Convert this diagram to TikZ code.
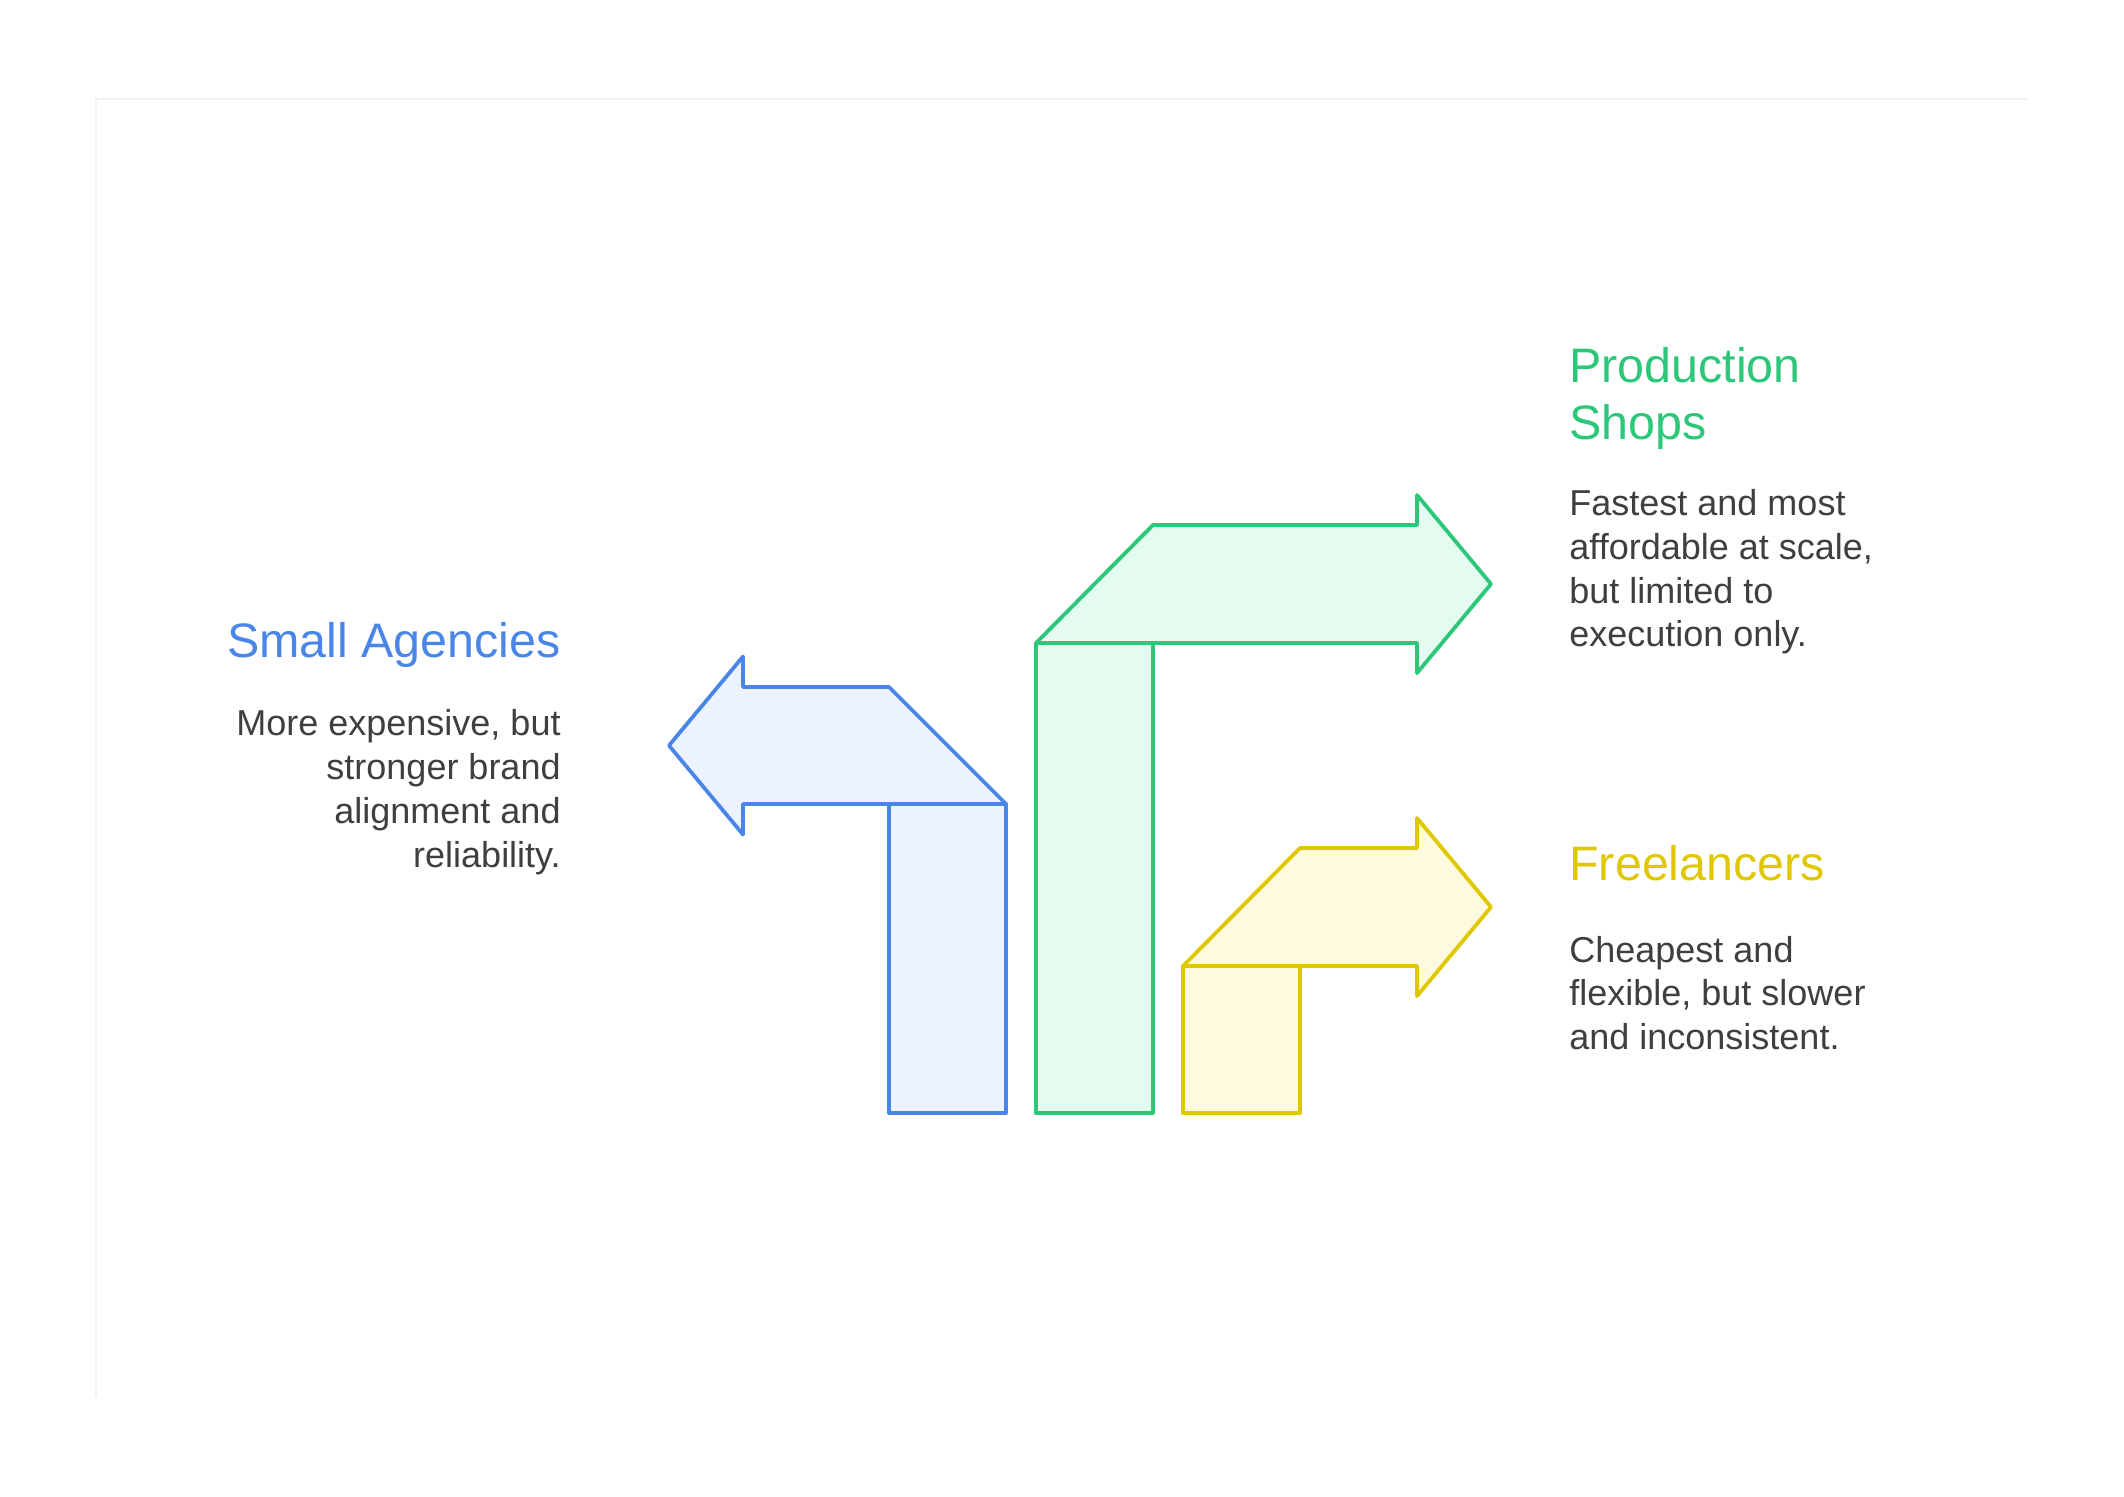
\documentclass[tikz,border=0pt]{standalone}
\usepackage{fontspec}
\setmainfont{Liberation Sans}
\definecolor{bstroke}{HTML}{4A86E8}
\definecolor{bfill}{HTML}{EDF3FE}
\definecolor{gstroke}{HTML}{2DC77A}
\definecolor{gfill}{HTML}{E3FCEF}
\definecolor{ystroke}{HTML}{E0C800}
\definecolor{yfill}{HTML}{FFFADF}
\definecolor{bodytext}{HTML}{3F3F3F}
\definecolor{framecol}{HTML}{F2F2F2}
\begin{document}
\begin{tikzpicture}[x=0.5pt,y=-0.5pt,line join=round,
  shapeB/.style={draw=bstroke,fill=bfill,line width=1.9pt},
  shapeG/.style={draw=gstroke,fill=gfill,line width=1.9pt},
  shapeY/.style={draw=ystroke,fill=yfill,line width=1.9pt},
  titleR/.style={anchor=base east,inner sep=0pt,font=\fontsize{24.2pt}{28.5pt}\selectfont},
  titleL/.style={anchor=base west,inner sep=0pt,font=\fontsize{24.2pt}{28.5pt}\selectfont},
  bodyR/.style={anchor=base east,inner sep=0pt,text=bodytext,font=\fontsize{18pt}{22pt}\selectfont},
  bodyL/.style={anchor=base west,inner sep=0pt,text=bodytext,font=\fontsize{18pt}{22pt}\selectfont}]
\useasboundingbox (0,0) rectangle (2124,1496);
\fill[white] (0,0) rectangle (2124,1496);
% faint frame
\draw[framecol,line width=1pt] (96,1397) -- (96,99) -- (2028,99);
% blue
\draw[shapeB] (889,804) rectangle (1006,1113);
\draw[shapeB] (1006,804) -- (889,687) -- (743,687) -- (743,656.5) -- (669,745.5) -- (743,834.5) -- (743,804) -- cycle;
% green
\draw[shapeG] (1036,643) rectangle (1153,1113);
\draw[shapeG] (1036,643) -- (1153,525) -- (1417,525) -- (1417,495) -- (1491,584) -- (1417,673) -- (1417,643) -- cycle;
% yellow
\draw[shapeY] (1183,966) rectangle (1300,1113);
\draw[shapeY] (1183,966) -- (1300,848) -- (1417,848) -- (1417,818) -- (1491,907) -- (1417,996) -- (1417,966) -- cycle;
% texts
\node[titleR,text=bstroke] (sat) at (561,657) {Small Agencies};
\node[bodyR] (sa1) at (561,735) {More expensive, but};
\node[bodyR] (sa2) at (561,779) {stronger brand};
\node[bodyR] (sa3) at (561,823) {alignment and};
\node[bodyR] (sa4) at (561,867) {reliability.};
\node[titleL,text=gstroke] (pst1) at (1569,382) {Production};
\node[titleL,text=gstroke] (pst2) at (1569,439) {Shops};
\node[bodyL] (ps1) at (1569,515) {Fastest and most};
\node[bodyL] (ps2) at (1569,559) {affordable at scale,};
\node[bodyL] (ps3) at (1569,603) {but limited to};
\node[bodyL] (ps4) at (1569,646) {execution only.};
\node[titleL,text=ystroke] (frt) at (1569,880) {Freelancers};
\node[bodyL] (fr1) at (1569,962) {Cheapest and};
\node[bodyL] (fr2) at (1569,1005) {flexible, but slower};
\node[bodyL] (fr3) at (1569,1049) {and inconsistent.};
\end{tikzpicture}
\end{document}
